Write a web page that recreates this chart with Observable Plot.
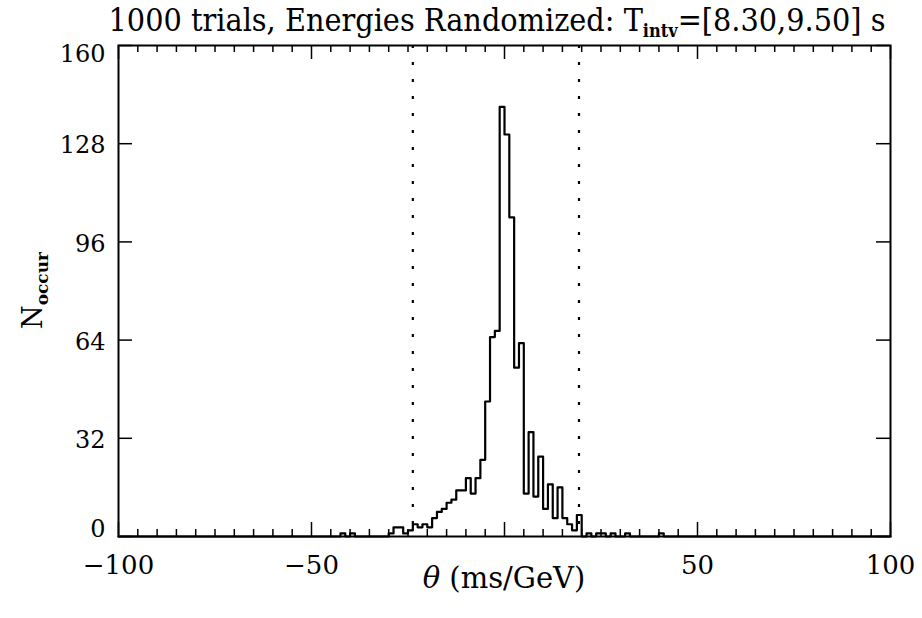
<!DOCTYPE html>
<html><head><meta charset="utf-8">
<script src="https://cdn.jsdelivr.net/npm/d3@7"></script>
<script src="https://cdn.jsdelivr.net/npm/@observablehq/plot@0.6"></script>
<style>body{margin:0;background:#fff}</style>
</head><body><div id="chart"></div>
<script>
// ---- data ----
const binWidth = 1.25;
const binLeftEdges = [-42.5,-40,-30,-28.75,-27.5,-26.25,-25,-23.75,-22.5,-21.25,-20,-18.75,-17.5,-16.25,-15,-13.75,-12.5,-11.25,-10,-8.75,-7.5,-6.25,-5,-3.75,-2.5,-1.25,0,1.25,2.5,3.75,5,6.25,7.5,8.75,10,11.25,12.5,13.75,15,16.25,17.5,18.75,21.25,23.75,25,27.5,31.25,40];
const binCounts    = [1,1,1,3,3,1,2,4,3,4,3,6,8,9,11,12,15,15,19,14,19,25,44,65,67,140,131,104,55,63,14,34,13,26,9,17,6,16,6,4,2,7,1,1,1,1,1,1];
const xRange = [-100, 100];
const yRange = [0, 160];
const xMajorTicks = [-100, -50, 0, 50, 100];
const xTickLabels = [-100, -50, 50, 100];
const yMajorTicks = [0, 32, 64, 96, 128, 160];
const xMinorStep = 5;
const cutLines = [-23.75, 19.3];
const titleMain = "1000 trials, Energies Randomized: T";
const titleSub = "intv";
const titleEnd = "=[8.30,9.50] s";
const yLabelMain = "N";
const yLabelSub = "occur";
const xLabelSym = "θ";
const xLabelRest = " (ms/GeV)";

// ---- build step series ----
const countByEdge = new Map(binLeftEdges.map((e, i) => [e, binCounts[i]]));
const nBins = Math.round((xRange[1] - xRange[0]) / binWidth);
const steps = [];
for (let i = 0; i <= nBins; i++) {
  const e = xRange[0] + i * binWidth;
  steps.push({x: e, y: countByEdge.get(e) ?? 0});
}
const xMinor = d3.range(xRange[0], xRange[1] + 0.001, xMinorStep).filter(v => !xMajorTicks.includes(v));

const W = 922, H = 618, mL = 118, mR = 32, mT = 45, mB = 82;
const pw = W - mL - mR, ph = H - mT - mB;
const FONT = "DejaVu Serif";

const svg = Plot.plot({
  width: W, height: H,
  marginLeft: mL, marginRight: mR, marginTop: mT, marginBottom: mB,
  style: {fontFamily: FONT, fontSize: "24px", color: "black", background: "white"},
  x: {domain: xRange},
  y: {domain: yRange},
  marks: [
    Plot.ruleX(cutLines, {stroke: "black", strokeWidth: 2.2, strokeDasharray: "3,14"}),
    Plot.line(steps, {x: "x", y: "y", curve: "step-after", stroke: "black", strokeWidth: 2.2}),
    Plot.tickX(xMinor, {x: d => d, insetTop: ph - 7, stroke: "black", strokeWidth: 1.5}),
    Plot.tickX(xMinor, {x: d => d, insetBottom: ph - 7, stroke: "black", strokeWidth: 1.5}),
    Plot.tickX(xMajorTicks, {x: d => d, insetTop: ph - 14, stroke: "black", strokeWidth: 1.5}),
    Plot.tickX(xMajorTicks, {x: d => d, insetBottom: ph - 14, stroke: "black", strokeWidth: 1.5}),
    Plot.tickY(yMajorTicks, {y: d => d, insetRight: pw - 14, stroke: "black", strokeWidth: 1.5}),
    Plot.tickY(yMajorTicks, {y: d => d, insetLeft: pw - 14, stroke: "black", strokeWidth: 1.5}),
    Plot.frame({stroke: "black", strokeWidth: 2}),
    Plot.axisX({ticks: xTickLabels, tickSize: 0, tickPadding: 19, fontSize: 26, label: null, tickFormat: d3.format("d")}),
    Plot.axisY({ticks: [], label: null}),
    Plot.text(yMajorTicks.filter(d => d !== yRange[0] && d !== yRange[1]), {y: d => d, frameAnchor: "left", dx: -13, dy: 2, textAnchor: "end", fontSize: 24, text: d => String(d)}),
    Plot.text([yRange[1]], {y: d => d, frameAnchor: "left", dx: -13, dy: 9, textAnchor: "end", fontSize: 24, text: d => String(d)}),
    Plot.text([yRange[0]], {y: d => d, frameAnchor: "left", dx: -13, dy: -7, textAnchor: "end", fontSize: 24, text: d => String(d)})
  ]
});

const s = d3.select(svg);
// title
const t = s.append("text").attr("x", 497).attr("y", 31).attr("text-anchor", "middle")
  .attr("font-family", FONT).attr("font-stretch", "condensed").attr("font-size", 32).attr("fill", "black");
t.append("tspan").text(titleMain);
t.append("tspan").attr("font-size", 18).attr("font-weight", "bold").attr("dy", 6).text(titleSub);
t.append("tspan").attr("dy", -6).text(titleEnd);
// x label
const xl = s.append("text").attr("x", mL + pw / 2).attr("y", 588).attr("text-anchor", "middle")
  .attr("font-family", FONT).attr("font-size", 29).attr("fill", "black");
xl.append("tspan").attr("font-style", "italic").text(xLabelSym);
xl.append("tspan").text(xLabelRest);
// y label
const yl = s.append("text").attr("transform", `translate(42,${mT + ph / 2}) rotate(-90)`).attr("text-anchor", "middle")
  .attr("font-family", FONT).attr("font-size", 27).attr("fill", "black");
yl.append("tspan").text(yLabelMain);
yl.append("tspan").attr("font-size", 17).attr("font-weight", "bold").attr("dy", 6).text(yLabelSub);

document.getElementById("chart").appendChild(svg);
</script></body></html>
